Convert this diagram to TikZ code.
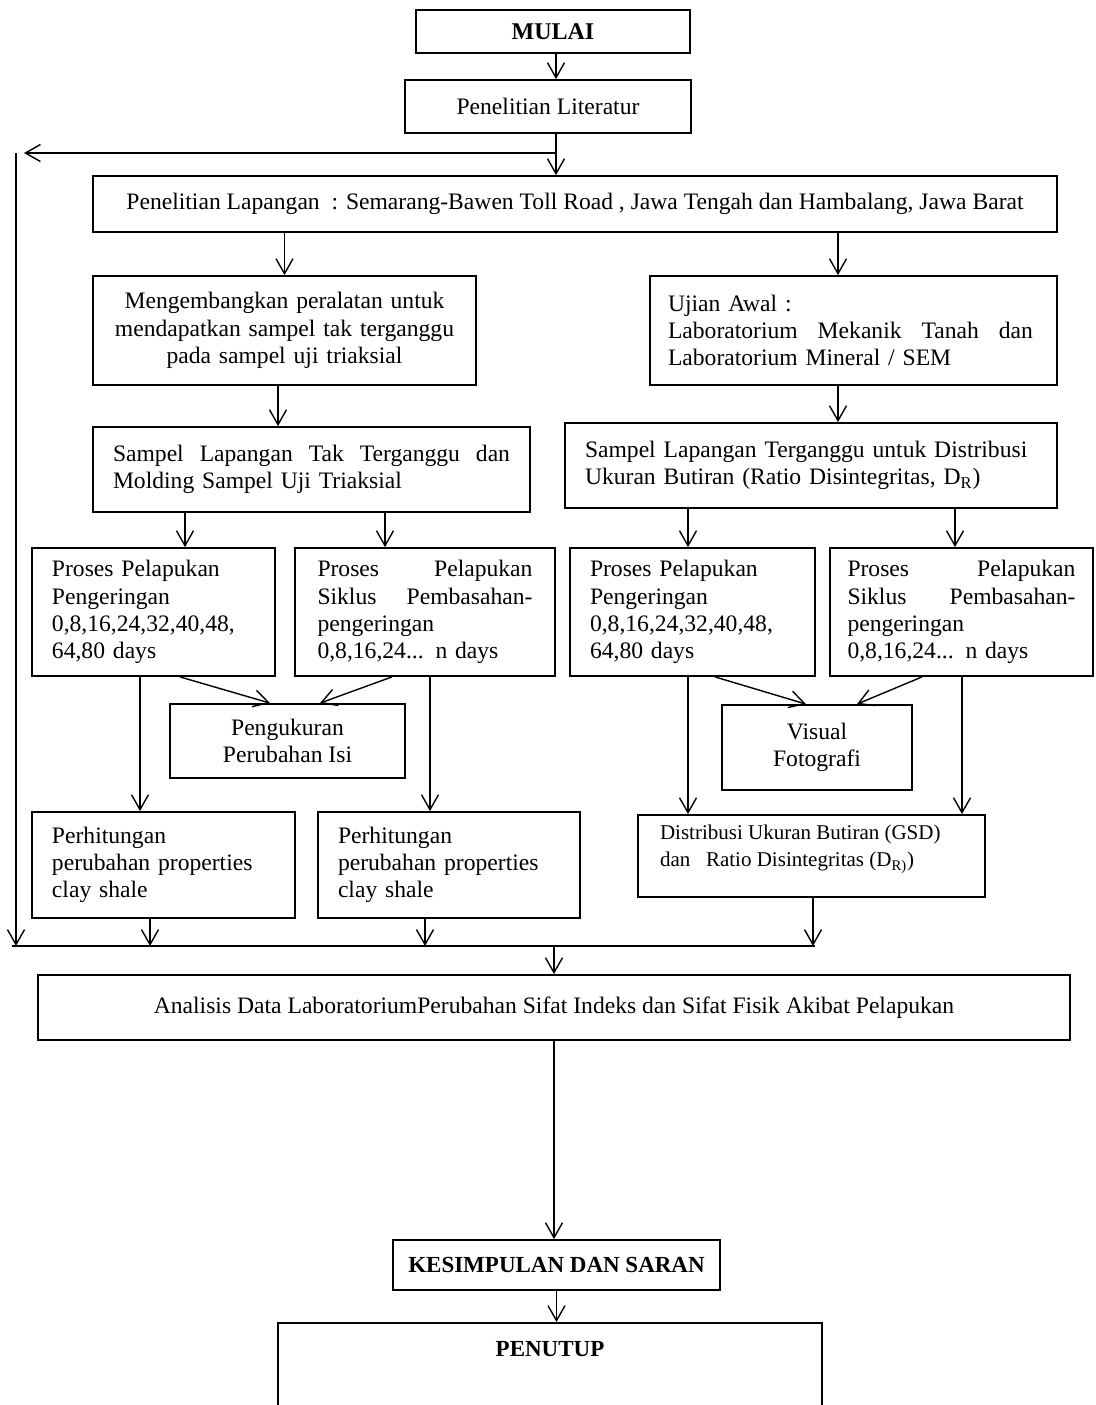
\documentclass[tikz,border=0pt]{standalone}
\usepackage{fontspec}
\setmainfont{Liberation Serif}
\usetikzlibrary{arrows.meta}
\newcommand{\spreadline}[2]{\leavevmode\hbox to #1{#2}}

\begin{document}
\begin{tikzpicture}[x=0.5pt, y=-0.5pt, >={Straight Barb[length=7.5pt,width=8.5pt]},
    box/.style={draw, line width=0.9pt, inner sep=0pt, align=left, font=\fontsize{11.8}{13.6}\selectfont},
    boldbox/.style={box, align=center, font=\fontsize{12}{14}\selectfont\bfseries},
    arr/.style={->, line width=0.7pt}]
    \useasboundingbox (0,0) rectangle (1096,1405);

    \node[boldbox, minimum width=137pt, minimum height=21.5pt] (mulai) at (553,31.5) {MULAI};
    \node[box, align=center, minimum width=143pt, minimum height=26.5pt] (lit) at (548,106.5) {Penelitian Literatur};
    \node[box, align=center, minimum width=482pt, minimum height=28pt] (lap) at (575,204)
        {Penelitian Lapangan\ \ : Semarang-Bawen Toll Road , Jawa Tengah dan Hambalang, Jawa Barat};

    \node[box, align=center, minimum width=191.5pt, minimum height=54.5pt, text width=184pt] (kemb) at (284.5,330.5)
        {Mengembangkan peralatan untuk\\ mendapatkan sampel tak terganggu\\ pada sampel uji triaksial};
    \node[box, minimum width=203.5pt, minimum height=54.5pt, text width=185.5pt] (ujian) at (853.5,330.5)
        {Ujian Awal :\\ \spreadline{182.5pt}{Laboratorium\hfill Mekanik\hfill Tanah\hfill dan}\\ Laboratorium Mineral / SEM};

    \node[box, minimum width=218.5pt, minimum height=42.5pt, text width=198.5pt] (sptt) at (311.5,469.5)
        {\spreadline{198.5pt}{Sampel\hfill Lapangan\hfill Tak\hfill Terganggu\hfill dan}\\ Molding Sampel Uji Triaksial};
    \node[box, minimum width=246pt, minimum height=42.5pt, text width=226pt] (spt) at (811,465.5)
        {Sampel Lapangan Terganggu untuk Distribusi\\ Ukuran Butiran (Ratio Disintegritas, D\textsubscript{R})};

    \node[box, minimum width=121.5pt, minimum height=64pt, text width=101.5pt] (pk1) at (153.5,612)
        {Proses Pelapukan\\ Pengeringan\\ 0,8,16,24,32,40,48,\\ 64,80 days};
    \node[box, minimum width=130pt, minimum height=64pt, text width=107.5pt] (pk2) at (425,612)
        {\spreadline{107.5pt}{Proses\hfill Pelapukan}\\ \spreadline{107.5pt}{Siklus\hfill Pembasahan-}\\ pengeringan\\ 0,8,16,24... n days};
    \node[box, minimum width=122.5pt, minimum height=64pt, text width=102.5pt] (pk3) at (692.5,612)
        {Proses Pelapukan\\ Pengeringan\\ 0,8,16,24,32,40,48,\\ 64,80 days};
    \node[box, minimum width=131.5pt, minimum height=64pt, text width=114pt] (pk4) at (961.5,612)
        {\spreadline{114pt}{Proses\hfill Pelapukan}\\ \spreadline{114pt}{Siklus\hfill Pembasahan-}\\ pengeringan\\ 0,8,16,24... n days};

    \node[box, align=center, minimum width=117.5pt, minimum height=37pt] (ukur) at (287.5,741) {Pengukuran\\ Perubahan Isi};
    \node[box, align=center, minimum width=95pt, minimum height=42.5pt] (visual) at (817,747.5) {Visual\\ Fotografi};

    \node[box, minimum width=131.5pt, minimum height=53pt, text width=111.5pt] (hit1) at (163.5,865)
        {Perhitungan\\ perubahan properties\\ clay shale};
    \node[box, minimum width=131pt, minimum height=53pt, text width=111pt] (hit2) at (449,865)
        {Perhitungan\\ perubahan properties\\ clay shale};
    \node[box, minimum width=173.5pt, minimum height=41pt, font=\fontsize{10.5}{13.6}\selectfont] (dist) at (811.5,856)
        {\parbox[c][31pt][t]{151.5pt}{Distribusi Ukuran Butiran (GSD)\\ dan\ \ \ Ratio Disintegritas (D\textsubscript{R)})}};

    \node[box, align=center, minimum width=516pt, minimum height=32.5pt] (anal) at (554,1007.5)
        {Analisis Data LaboratoriumPerubahan Sifat Indeks dan Sifat Fisik Akibat Pelapukan};
    \node[boldbox, font=\fontsize{11.5}{14}\selectfont\bfseries, minimum width=163.5pt, minimum height=25pt] (kes) at (556.5,1265)
        {KESIMPULAN DAN SARAN};
    \node[boldbox, font=\fontsize{11.5}{14}\selectfont\bfseries, anchor=north, minimum width=272pt, text height=17pt, text depth=26pt] (pen) at (550,1322)
        {PENUTUP};

    % feedback line and merge line
    \coordinate (fbR) at (556,153);
    \coordinate (fbL) at (24,153);
    \coordinate (fbTop) at (16,153);
    \coordinate (mL) at (12,946);
    \coordinate (mR) at (815,946);

    \draw[arr] (mulai.south -| fbR) -- (lit.north -| fbR);
    \draw[arr] (lit.south -| fbR) -- (lap.north -| fbR);
    \draw[arr] (fbR) -- (fbL);
    \draw[arr] (fbTop) -- (fbTop |- mL);

    \draw[arr] (lap.south -| kemb.north) -- (kemb.north);
    \draw[arr] (lap.south -| 838,0) -- (ujian.north -| 838,0);
    \draw[arr] (kemb.south -| 278,0) -- (sptt.north -| 278,0);
    \draw[arr] (ujian.south -| 838,0) -- (spt.north -| 838,0);

    \draw[arr] (sptt.south -| 185,0) -- (pk1.north -| 185,0);
    \draw[arr] (sptt.south -| 385,0) -- (pk2.north -| 385,0);
    \draw[arr] (spt.south -| 688,0) -- (pk3.north -| 688,0);
    \draw[arr] (spt.south -| 955,0) -- (pk4.north -| 955,0);

    \draw[arr] (pk1.south -| 180,0) -- (ukur.north -| 270,0);
    \draw[arr] (pk2.south -| 392,0) -- (ukur.north -| 320,0);
    \draw[arr] (pk3.south -| 715,0) -- (visual.north -| 806,0);
    \draw[arr] (pk4.south -| 922,0) -- (visual.north -| 857,0);

    \draw[arr] (pk1.south -| 140,0) -- (hit1.north -| 140,0);
    \draw[arr] (pk2.south -| 430,0) -- (hit2.north -| 430,0);
    \draw[arr] (pk3.south -| 688,0) -- (dist.north -| 688,0);
    \draw[arr] (pk4.south -| 962,0) -- (dist.north -| 962,0);

    \draw[arr] (hit1.south -| 150,0) -- (mL -| 150,0);
    \draw[arr] (hit2.south -| 425,0) -- (mL -| 425,0);
    \draw[arr] (dist.south -| 813,0) -- (mL -| 813,0);
    \draw[line width=1pt] (mL) -- (mR);

    \draw[arr] (mL -| anal.north) -- (anal.north);
    \draw[arr] (anal.south) -- (anal.south |- kes.north);
    \draw[arr] (kes.south) -- (kes.south |- pen.north);
\end{tikzpicture}
\end{document}
